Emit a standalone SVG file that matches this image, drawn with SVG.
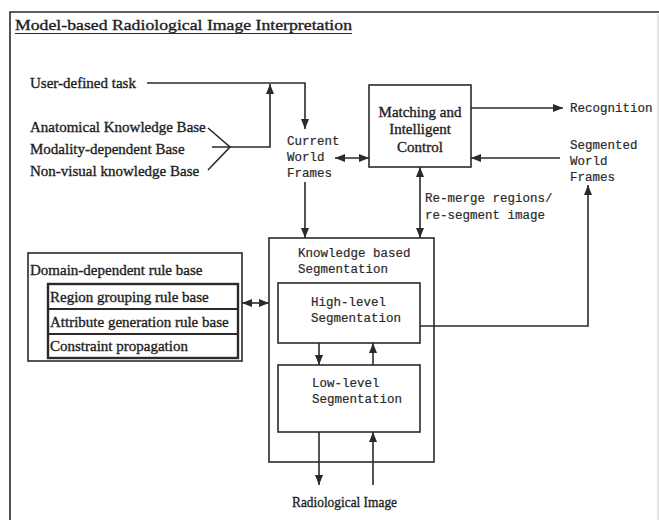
<svg xmlns="http://www.w3.org/2000/svg" width="659" height="520" viewBox="0 0 659 520">
<defs>
<marker id="ah" viewBox="0 0 10 8" refX="10" refY="4" markerWidth="10" markerHeight="8" markerUnits="userSpaceOnUse" orient="auto-start-reverse">
<path d="M0,0 L10,4 L0,8 z" fill="#2a2a2a"/>
</marker>
</defs>
<style>
.ser{font-family:"Liberation Serif","Times New Roman",serif;font-size:15px;fill:#1e1e1e;stroke:#1e1e1e;stroke-width:0.35}
.mono{font-family:"Liberation Mono","Courier New",monospace;font-size:12.5px;fill:#2a2a2a;stroke:#2a2a2a;stroke-width:0.2}
.ln{stroke:#2a2a2a;stroke-width:1.6;fill:none}
.bx{stroke:#2a2a2a;stroke-width:1.6;fill:#fff}
.bx2{stroke:#2a2a2a;stroke-width:2.4;fill:#fff}
</style>
<rect width="659" height="520" fill="#fff"/>
<g id="frame">
<path class="ln" d="M10,520 L10,12 L659,12" stroke-width="2"/>
<line x1="658" y1="14" x2="658" y2="520" stroke="#ccc" stroke-width="1"/>
<text class="ser" x="15" y="30" font-size="16" textLength="337" lengthAdjust="spacingAndGlyphs">Model-based Radiological Image Interpretation</text>
<line x1="15" y1="33.5" x2="352" y2="33.5" stroke="#2a2a2a" stroke-width="1.2"/>
</g>
<g id="inputs">
<text class="ser" x="30" y="88">User-defined task</text>
<text class="ser" x="30" y="132">Anatomical Knowledge Base</text>
<text class="ser" x="30" y="154">Modality-dependent Base</text>
<text class="ser" x="30" y="176">Non-visual knowledge Base</text>
</g>
<g id="current-world-frames">
<text class="mono" x="287" y="145">Current</text>
<text class="mono" x="287" y="161">World</text>
<text class="mono" x="287" y="177">Frames</text>
</g>
<g id="matching">
<rect class="bx" x="369" y="85" width="102" height="82"/>
<text class="ser" x="420" y="117" text-anchor="middle">Matching and</text>
<text class="ser" x="420" y="134" text-anchor="middle">Intelligent</text>
<text class="ser" x="420" y="152" text-anchor="middle">Control</text>
</g>
<g id="recognition">
<text class="mono" x="570" y="112">Recognition</text>
</g>
<g id="segmented-world-frames">
<text class="mono" x="570" y="149">Segmented</text>
<text class="mono" x="570" y="165">World</text>
<text class="mono" x="570" y="181">Frames</text>
</g>
<g id="remerge-label">
<text class="mono" x="425" y="202">Re-merge regions/</text>
<text class="mono" x="425" y="219">re-segment image</text>
</g>
<g id="kbs">
<rect class="bx" x="269" y="238" width="165" height="224"/>
<text class="mono" x="298" y="257">Knowledge based</text>
<text class="mono" x="298" y="273">Segmentation</text>
</g>
<g id="high-level">
<rect class="bx" x="278" y="283" width="142" height="60"/>
<text class="mono" x="311" y="306">High-level</text>
<text class="mono" x="311" y="322">Segmentation</text>
</g>
<g id="low-level">
<rect class="bx" x="278" y="365" width="142" height="67"/>
<text class="mono" x="312" y="387">Low-level</text>
<text class="mono" x="312" y="403">Segmentation</text>
</g>
<g id="rule-base">
<rect class="bx" x="28" y="253" width="214" height="108"/>
<text class="ser" x="30" y="275">Domain-dependent rule base</text>
<rect class="bx2" x="48" y="284" width="190" height="74"/>
<line x1="48" y1="309" x2="238" y2="309" stroke="#2a2a2a" stroke-width="2.2"/>
<line x1="48" y1="334" x2="238" y2="334" stroke="#2a2a2a" stroke-width="2.2"/>
<text class="ser" x="50" y="302">Region grouping rule base</text>
<text class="ser" x="50" y="327">Attribute generation rule base</text>
<text class="ser" x="50" y="351">Constraint propagation</text>
</g>
<g id="radiological-image">
<text class="ser" x="292" y="507" textLength="105" lengthAdjust="spacingAndGlyphs">Radiological Image</text>
</g>
<g id="connectors">
<path class="ln" d="M147,83 L305,83 L305,129" marker-end="url(#ah)"/>
<path class="ln" d="M208,128 L230,147 L208,170"/>
<path class="ln" d="M212,147 L270,147 L270,84" marker-end="url(#ah)"/>
<line class="ln" x1="335" y1="158" x2="369" y2="158" marker-start="url(#ah)" marker-end="url(#ah)"/>
<line class="ln" x1="471" y1="108" x2="563" y2="108" marker-end="url(#ah)"/>
<line class="ln" x1="560" y1="158" x2="471" y2="158" marker-end="url(#ah)"/>
<line class="ln" x1="420" y1="167" x2="420" y2="238" marker-start="url(#ah)" marker-end="url(#ah)"/>
<line class="ln" x1="305" y1="182" x2="305" y2="238" marker-end="url(#ah)"/>
<path class="ln" d="M420,326 L588,326 L588,185" marker-end="url(#ah)"/>
<line class="ln" x1="242" y1="303" x2="269" y2="303" marker-start="url(#ah)" marker-end="url(#ah)"/>
<line class="ln" x1="319" y1="343" x2="319" y2="365" marker-end="url(#ah)"/>
<line class="ln" x1="373" y1="365" x2="373" y2="343" marker-end="url(#ah)"/>
<line class="ln" x1="319" y1="432" x2="319" y2="485" marker-end="url(#ah)"/>
<line class="ln" x1="373" y1="485" x2="373" y2="432" marker-end="url(#ah)"/>
</g>
</svg>
